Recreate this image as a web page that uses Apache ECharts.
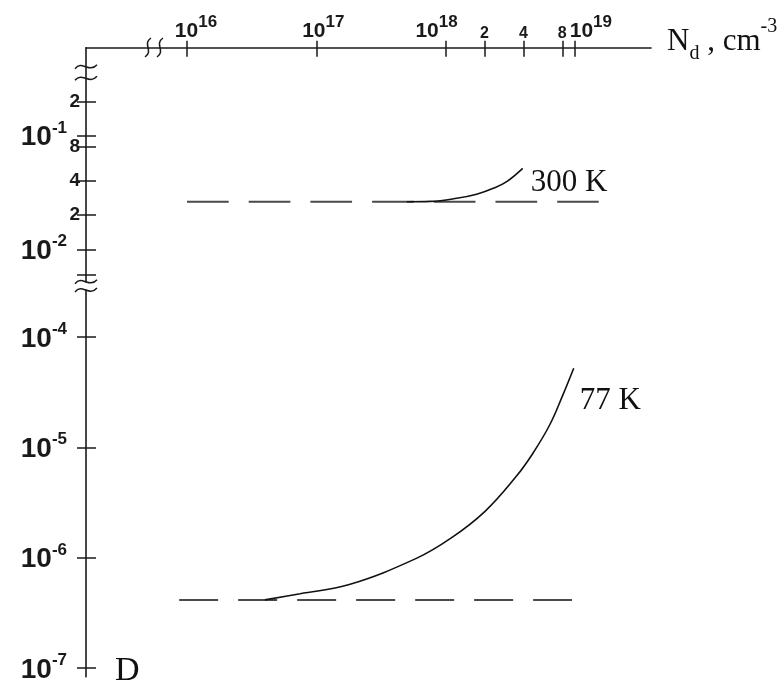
<!DOCTYPE html>
<html>
<head>
<meta charset="utf-8">
<script src="https://cdn.jsdelivr.net/npm/echarts@6/dist/echarts.min.js"></script>
<style>html,body{margin:0;padding:0;background:#fff;}#c{width:779px;height:684px;}</style>
</head>
<body>
<div id="c"></div>
<script>
// ---- data ----
var xTicks = [1e16, 1e17, 1e18, 2e18, 4e18, 8e18, 1e19];
var xTickLabels = ['10^16', '10^17', '10^18', '2', '4', '8', '10^19'];
var yTicksUpper = [0.2, 0.1, 0.08, 0.04, 0.02, 0.01, 0.006];
var yLabelsUpper = ['2', '10^-1', '8', '4', '2', '10^-2', ''];
var yTicksLower = [1e-4, 1e-5, 1e-6, 1e-7];
var yLabelsLower = ['10^-4', '10^-5', '10^-6', '10^-7'];

var dash300N = [1e16, 1.53e19];
var dash300D = [2.62e-2, 2.62e-2];
var curve300N = [5.0e17, 7.6e17, 1.22e18, 1.74e18, 2.34e18, 2.97e18, 3.95e18];
var curve300D = [2.62e-2, 2.64e-2, 2.81e-2, 3.05e-2, 3.44e-2, 3.94e-2, 5.16e-2];

var dash77N = [8.7e15, 9.5e18];
var dash77D = [4.14e-7, 4.14e-7];
var curve77N = [4.0e16, 7.5e16, 1.8e17, 6.0e17, 1.1e18, 2.0e18, 3.5e18, 4.7e18, 6.4e18, 8.1e18, 9.8e18];
var curve77D = [4.14e-7, 4.71e-7, 5.7e-7, 9.9e-7, 1.5e-6, 2.6e-6, 5.4e-6, 8.7e-6, 1.6e-5, 3.0e-5, 5.2e-5];

// ---- layout ----
var L = Math.log10;
var AX = '#1a1a1a';
var SANS = '"Liberation Sans", Arial, sans-serif';
var SERIF = '"Liberation Serif", "Times New Roman", serif';
var xShift = {'10^16': 9, '10^17': 7, '10^18': -9, '10^19': 16};

function pairs(xs, ys) { return xs.map(function (x, i) { return [L(x), L(ys[i])]; }); }
function nearest(v, ticks) {
  var best = 0, d = 1e9;
  ticks.forEach(function (t, i) { var dd = Math.abs(L(t) - v); if (dd < d) { d = dd; best = i; } });
  return best;
}
var isDecade = function (lab) { return lab.indexOf('^') >= 0; };
var xMajor = xTicks.filter(function (t, i) { return isDecade(xTickLabels[i]); });
var xMinor = xTicks.filter(function (t, i) { return !isDecade(xTickLabels[i]); });

var xRich = {
  a: {fontFamily: SANS, fontWeight: 'bold', fontSize: 21, lineHeight: 28, padding: [7, 0, 0, 0], verticalAlign: 'bottom', color: AX},
  s: {fontFamily: SANS, fontWeight: 'bold', fontSize: 17, lineHeight: 17, verticalAlign: 'top', color: AX},
  m: {fontFamily: SANS, fontWeight: 'bold', fontSize: 16, lineHeight: 16, color: AX}
};
Object.keys(xShift).forEach(function (k, i) {
  xRich['sp' + i] = {width: Math.abs(xShift[k]) * 2, fontSize: 4, lineHeight: 4};
});
function xFormatter(v) {
  var lab = xTickLabels[nearest(v, xTicks)];
  if (!isDecade(lab)) return '{m|' + lab + '}';
  var p = lab.split('^');
  var k = Object.keys(xShift).indexOf(lab);
  var s = xShift[lab] || 0;
  var core = '{a|' + p[0] + '}{s|' + p[1] + '}';
  if (k < 0 || s === 0) return core;
  return s > 0 ? '{sp' + k + '| }' + core : core + '{sp' + k + '| }';
}

var yRich = {
  a: {fontFamily: SANS, fontWeight: 'bold', fontSize: 28, lineHeight: 32, padding: [4, 0, 0, 0], verticalAlign: 'bottom', color: AX},
  s: {fontFamily: SANS, fontWeight: 'bold', fontSize: 17, lineHeight: 17, verticalAlign: 'top', color: AX},
  w: {width: 13, fontSize: 4, lineHeight: 4},
  m: {fontFamily: SANS, fontWeight: 'bold', fontSize: 19, lineHeight: 19, color: AX}
};
function yFormatter(ticks, labels) {
  return function (v) {
    var lab = labels[nearest(v, ticks)];
    if (!lab) return '';
    if (!isDecade(lab)) return '{m|' + lab + '}';
    var p = lab.split('^');
    return '{a|' + p[0] + '}{s|' + p[1] + '}{w| }';
  };
}

var xMin = 15.219, xMax = 19.589;
var g0 = {left: 86, top: 47.7, width: 565, height: 234.3};
var g1 = {left: 86, top: 290, width: 565, height: 394};

function xAxisBase(grid, inside, show, labelVals) {
  return {
    type: 'value', gridIndex: grid, position: 'top', min: xMin, max: xMax,
    splitLine: {show: false},
    axisLine: {show: show && !inside, lineStyle: {color: AX, width: 1.6}},
    axisTick: {show: show, inside: inside, length: inside ? 9 : 7, lineStyle: {color: AX, width: 1.5},
      customValues: xTicks.map(L)},
    axisLabel: {show: show, inside: false, hideOverlap: false, margin: 6,
      customValues: (labelVals || []).map(L), formatter: xFormatter, rich: xRich},
    show: show
  };
}
function yAxisBase(grid, min, max, ticks, labels, inside) {
  return {
    type: 'value', gridIndex: grid, position: 'left', min: min, max: max,
    splitLine: {show: false},
    axisLine: {show: !inside, onZero: false, lineStyle: {color: AX, width: 1.6}},
    axisTick: {show: true, inside: inside, length: inside ? 10 : 9, lineStyle: {color: AX, width: 1.5},
      customValues: ticks.map(L)},
    axisLabel: {show: !inside, hideOverlap: false, margin: 6, customValues: ticks.map(L), formatter: yFormatter(ticks, labels), rich: yRich}
  };
}

var xAxes = [xAxisBase(0, false, true, xMajor), xAxisBase(0, true, true, xMinor), xAxisBase(1, false, false, [])];
xAxes[0].name = '{n|N}{d|d}{c| , cm}{e|-3}';
xAxes[0].nameLocation = 'end';
xAxes[0].nameGap = 16;
xAxes[0].nameMoveOverlap = false;
xAxes[0].nameTextStyle = {
  padding: [0, 0, 12, 0],
  rich: {
    n: {fontFamily: SERIF, fontSize: 31, lineHeight: 31, verticalAlign: 'middle', color: '#111'},
    d: {fontFamily: SERIF, fontSize: 20, lineHeight: 44, padding: [24, 0, 0, 0], verticalAlign: 'middle', color: '#111'},
    c: {fontFamily: SERIF, fontSize: 31, lineHeight: 31, verticalAlign: 'middle', color: '#111'},
    e: {fontFamily: SERIF, fontSize: 20, lineHeight: 50, padding: [0, 0, 30, 0], verticalAlign: 'middle', color: '#111'}
  }
};

var yAxes = [
  yAxisBase(0, -2.288, -0.2254, yTicksUpper, yLabelsUpper, false),
  yAxisBase(0, -2.288, -0.2254, yTicksUpper, yLabelsUpper, true),
  yAxisBase(1, -7.080, -3.575, yTicksLower, yLabelsLower, false),
  yAxisBase(1, -7.080, -3.575, yTicksLower, yLabelsLower, true)
];

var dashStyle300 = {color: '#4a4a4a', width: 2, type: [41.7, 20]};
var dashStyle77 = {color: '#4a4a4a', width: 2, type: [39, 20]};
var curveStyle = {color: '#111', width: 1.6};
var endLab = function (txt, off) {
  return {show: true, formatter: txt, offset: off, distance: 8, fontFamily: SERIF, fontSize: 31, color: '#111'};
};

var series = [
  {type: 'line', xAxisIndex: 0, yAxisIndex: 0, data: pairs(dash300N, dash300D), symbol: 'none', lineStyle: dashStyle300, silent: true},
  {type: 'line', xAxisIndex: 0, yAxisIndex: 0, data: pairs(curve300N, curve300D), symbol: 'none', smooth: 0.4,
    lineStyle: curveStyle, endLabel: endLab('300 K', [0, 15])},
  {type: 'line', xAxisIndex: 2, yAxisIndex: 2, data: pairs(dash77N, dash77D), symbol: 'none', lineStyle: dashStyle77, silent: true},
  {type: 'line', xAxisIndex: 2, yAxisIndex: 2, data: pairs(curve77N, curve77D), symbol: 'none', smooth: 0.4,
    lineStyle: curveStyle, endLabel: endLab('77 K', [-2, 33])}
];

function tilde(y) {
  return {type: 'bezierCurve', shape: {x1: 75, y1: y + 2, cpx1: 82, cpy1: y - 7, cpx2: 89, cpy2: y + 7, x2: 97, y2: y - 2},
    style: {stroke: AX, lineWidth: 1.5, fill: null}, z: 100};
}
function squig(x) {
  return {type: 'bezierCurve', shape: {x1: x + 3, y1: 38, cpx1: x - 6, cpy1: 44, cpx2: x + 6, cpy2: 51, x2: x - 3, y2: 57},
    style: {stroke: AX, lineWidth: 1.5, fill: null}, z: 100};
}

var chart = echarts.init(document.getElementById('c'), null, {renderer: 'canvas'});
chart.setOption({
  animation: false,
  backgroundColor: '#fff',
  grid: [g0, g1],
  xAxis: xAxes,
  yAxis: yAxes,
  series: series,
  graphic: [
    squig(148), squig(160),
    tilde(66.7), tilde(78.3), tilde(281.7), tilde(290),
    {type: 'text', x: 115, y: 671, style: {text: 'D', font: '34px ' + SERIF, fill: '#111', verticalAlign: 'middle'}, z: 100}
  ]
});
</script>
</body>
</html>
